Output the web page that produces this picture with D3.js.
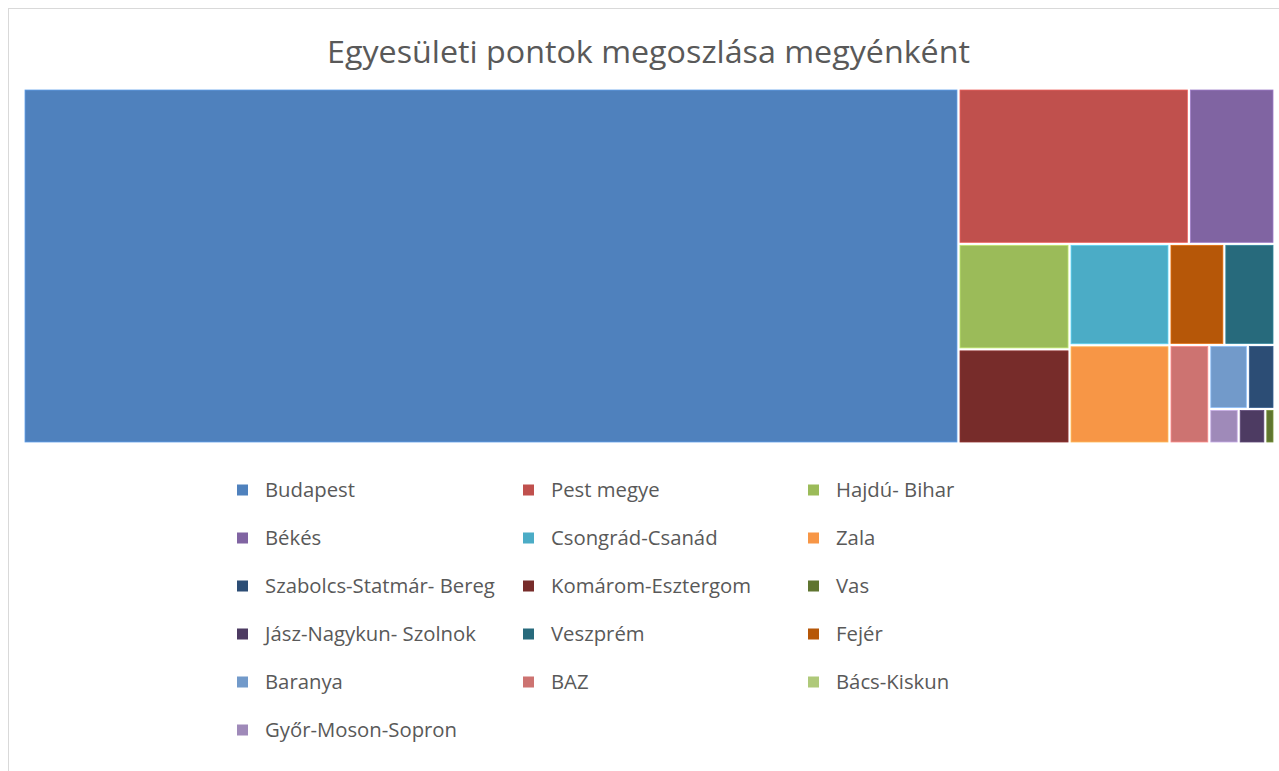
<!DOCTYPE html>
<html>
<head>
<meta charset="utf-8">
<script src="https://cdn.jsdelivr.net/npm/d3@7"></script>
<style>
  html, body { margin: 0; padding: 0; background: #fff; }
  svg { display: block; }
</style>
</head>
<body>
<svg id="chart" width="1279" height="771"></svg>
<script>
const title = "Egyesületi pontok megoszlása megyénként";
const categories = ["Budapest", "Pest megye", "Hajdú- Bihar", "Békés", "Csongrád-Csanád", "Zala",
  "Szabolcs-Statmár- Bereg", "Komárom-Esztergom", "Vas", "Jász-Nagykun- Szolnok", "Veszprém", "Fejér",
  "Baranya", "BAZ", "Bács-Kiskun", "Győr-Moson-Sopron"];
const values = [1048, 113, 37, 42, 32, 31, 5.4, 33, 1, 2.9, 16, 17.5, 7.8, 12.4, 0, 3.2];
const colors = ["#4F81BD", "#C0504D", "#9BBB59", "#8064A2", "#4BACC6", "#F79646",
  "#2C4D75", "#772C2A", "#5F7530", "#4D3B62", "#276A7C", "#B65708",
  "#729ACA", "#CD7371", "#AFC97A", "#9F8AB9"];

// number of tiles in each successive strip of the (Excel-style) squarified layout
const stripSizes = [1, 2, 2, 2, 2, 1, 2, 1, 1, 1];

const svg = d3.select("#chart");
const W = 1279, H = 771;
const font = "'Open Sans', 'Liberation Sans', sans-serif";

// chart border
svg.append("rect").attr("x", 8.5).attr("y", 8.5).attr("width", W + 10).attr("height", H + 10)
  .attr("fill", "#fff").attr("stroke", "#d9d9d9").attr("stroke-width", 1);

// title
svg.append("text").attr("x", 648.5).attr("y", 62.5).attr("text-anchor", "middle")
  .attr("font-family", font).attr("font-size", 31).attr("fill", "#595959")
  .attr("textLength", 643).attr("lengthAdjust", "spacingAndGlyphs")
  .text(title);

// treemap with strip tiling (orientation along the shorter side, like squarify)
function stripTile(parent, x0, y0, x1, y1) {
  const nodes = parent.children;
  let value = parent.value, i = 0;
  for (const size of stripSizes) {
    if (i >= nodes.length) break;
    const kids = nodes.slice(i, i + size);
    const sum = d3.sum(kids, d => d.value);
    const row = { value: sum, children: kids };
    const dx = x1 - x0, dy = y1 - y0;
    if (dx < dy) {
      const yy = y0 + dy * sum / value;
      d3.treemapDice(row, x0, y0, x1, yy);
      y0 = yy;
    } else {
      const xx = x0 + dx * sum / value;
      d3.treemapSlice(row, x0, y0, xx, y1);
      x0 = xx;
    }
    value -= sum; i += size;
  }
}

const data = categories.map((c, i) => ({ name: c, value: values[i], color: colors[i] }));
const root = d3.hierarchy({ children: data.filter(d => d.value > 0) })
  .sum(d => d.value || 0)
  .sort((a, b) => b.value - a.value);

const plot = { x: 25, y: 90, w: 1248, h: 352 };
d3.treemap().tile(stripTile).size([plot.w + 3, plot.h + 3]).round(false)(root);

const g = svg.append("g").attr("transform", `translate(${plot.x - 1.5},${plot.y - 1.5})`);
g.selectAll("rect").data(root.leaves()).join("rect")
  .attr("x", d => d.x0 + 1.5).attr("y", d => d.y0 + 1.5)
  .attr("width", d => Math.max(0, d.x1 - d.x0 - 3))
  .attr("height", d => Math.max(0, d.y1 - d.y0 - 3))
  .attr("fill", d => d.data.color)
  .attr("stroke", d => d3.color(d.data.color).brighter(0.6))
  .attr("stroke-width", 0.8);

// legend
const colX = [237, 523, 808];
const rowY0 = 490, rowStep = 48;
const leg = svg.append("g");
const labels = [];
data.forEach((d, i) => {
  const cx = colX[i % 3], cy = rowY0 + Math.floor(i / 3) * rowStep;
  leg.append("rect").attr("x", cx).attr("y", cy - 5.5).attr("width", 11).attr("height", 11)
    .attr("fill", d.color);
  labels.push(leg.append("text").attr("x", cx + 28).attr("y", cy + 7)
    .attr("font-family", font).attr("font-size", 20.5).attr("fill", "#595959")
    .text(d.name));
});
// match the reference label widths (Budapest ≈ 90px)
const k = 90 / labels[0].node().getComputedTextLength();
labels.forEach(t => {
  const w = t.node().getComputedTextLength();
  t.attr("textLength", w * k).attr("lengthAdjust", "spacingAndGlyphs");
});
</script>
</body>
</html>
